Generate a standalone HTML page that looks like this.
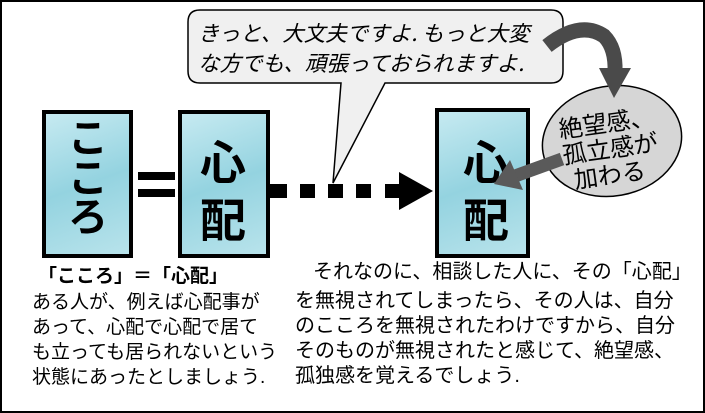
<!DOCTYPE html>
<html><head><meta charset="utf-8"><style>
body{margin:0;width:705px;height:413px;overflow:hidden;background:#fff;font-family:"Liberation Sans","Noto Sans CJK JP",sans-serif}
.frame{position:absolute;left:0;top:0;width:701px;height:409px;border:2px solid #000}
.box{position:absolute;box-sizing:border-box;border:4px solid #000;background:linear-gradient(160deg,#c6eaf1,#94d3e0 50%,#b8e3eb);}
.t{position:absolute;color:#000;font-size:19px;line-height:25px;white-space:nowrap;font-family:"Liberation Sans","Noto Sans CJK JP",sans-serif}
</style></head><body>
<div class="frame"></div>
<div class="box" style="left:42px;top:110px;width:91px;height:148px"></div>
<div class="box" style="left:178px;top:110px;width:92px;height:148px"></div>
<div class="box" style="left:435px;top:108px;width:95px;height:150px"></div>
<svg width="705" height="413" style="position:absolute;left:0;top:0">
<g font-family="Noto Sans CJK JP" text-anchor="middle" font-weight="bold">
<text x="88" y="152" font-size="40">こ</text>
<text x="88" y="192" font-size="40">こ</text>
<text x="88" y="231" font-size="40">ろ</text>
<text x="223" y="179" font-size="46">心</text>
<text x="223" y="237" font-size="46">配</text>
<text x="486" y="179" font-size="46">心</text>
<text x="486" y="237" font-size="46">配</text>
</g>
<rect x="138" y="172" width="37" height="8" fill="#000"/>
<rect x="138" y="189" width="37" height="8" fill="#000"/>
<rect x="270" y="184" width="17" height="14" fill="#000"/>
<rect x="300" y="184" width="15" height="14" fill="#000"/>
<rect x="328" y="184" width="15" height="14" fill="#000"/>
<rect x="356" y="184" width="15" height="14" fill="#000"/>
<rect x="385" y="184" width="16" height="14" fill="#000"/>
<polygon points="399,172 433,191 399,210" fill="#000"/>
<path d="M200,10 H551 Q563,10 563,22 V71 Q563,83 551,83 H385 L333,183 L341,83 H200 Q188,83 188,71 V22 Q188,10 200,10 Z" fill="#f0f0f0" stroke="#000" stroke-width="1.5"/>
<text x="198" y="41" font-size="21.5" font-style="italic" font-family="Noto Sans CJK JP">きっと、大文夫ですよ. もっと大変</text>
<text x="198" y="71" font-size="21.5" font-style="italic" font-family="Noto Sans CJK JP">な方でも、頑張っておられますよ.</text>
<ellipse cx="612" cy="141" rx="70" ry="55" fill="#d6d6d6" stroke="#000" stroke-width="1.5" transform="rotate(-10 612 141)"/>
<path d="M547,46 Q580,20 604,36 Q616,48 615,72" stroke="#4a4a4a" stroke-width="15" fill="none"/>
<polygon points="599,68 631,68 614,98" fill="#4a4a4a"/>
<line x1="562" y1="159" x2="515" y2="176" stroke="#5a5a5a" stroke-width="13"/>
<polygon points="494,184 510,160 523,190" fill="#5a5a5a"/>
<g font-family="Noto Sans CJK JP" font-size="24" transform="rotate(-8 612 148)">
<text x="562" y="131">絶望感、</text>
<text x="562" y="157">孤立感が</text>
<text x="570" y="183">加わる</text>
</g>
</svg>
<div class="t" style="left:38px;top:264px;font-weight:bold">「こころ」＝「心配」</div>
<div class="t" style="left:32px;top:290px">ある人が、例えば心配事が<br>あって、心配で心配で居て<br>も立っても居られないという<br>状態にあったとしましょう.</div>
<div class="t" style="left:313px;top:260px;font-size:20px">それなのに、相談した人に、その「心配」</div>
<div class="t" style="left:295px;top:289px;font-size:20px">を無視されてしまったら、その人は、自分<br>のこころを無視されたわけですから、自分<br>そのものが無視されたと感じて、絶望感、<br>孤独感を覚えるでしょう.</div>
</body></html>
